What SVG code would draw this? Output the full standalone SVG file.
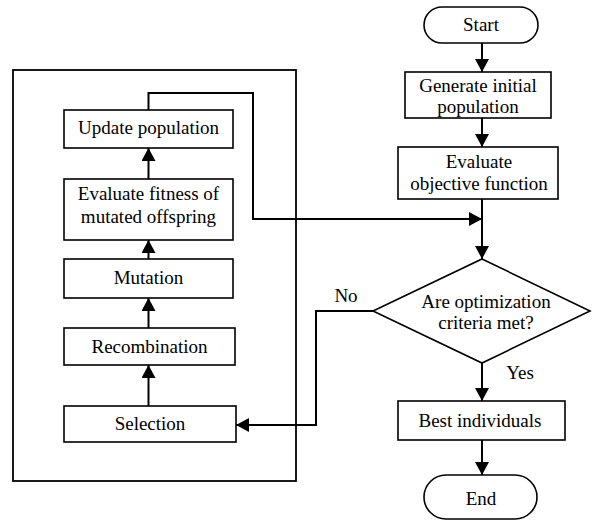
<svg xmlns="http://www.w3.org/2000/svg" width="592" height="521" viewBox="0 0 592 521">
<defs>
<marker id="ah" markerUnits="userSpaceOnUse" markerWidth="14" markerHeight="14" refX="13" refY="7" orient="auto">
<path d="M0,0 L13,7 L0,14 Z" fill="#000"/>
</marker>
</defs>
<rect x="0" y="0" width="592" height="521" fill="#fff"/>
<g id="container"><rect x="13" y="70" width="283" height="411" fill="none" stroke="#000" stroke-width="1.8"/></g>
<g id="update"><rect fill="#fff" stroke="#000" stroke-width="1.6" x="64" y="110" width="169" height="38"/><text x="148.5" y="134" font-family="Liberation Serif, serif" font-size="19" text-anchor="middle">Update population</text></g>
<g id="evalfit"><rect fill="#fff" stroke="#000" stroke-width="1.6" x="64" y="179" width="169" height="61"/><text x="148.5" y="200" font-family="Liberation Serif, serif" font-size="19" text-anchor="middle">Evaluate fitness of</text><text x="148.5" y="223" font-family="Liberation Serif, serif" font-size="19" text-anchor="middle">mutated offspring</text></g>
<g id="mutation"><rect fill="#fff" stroke="#000" stroke-width="1.6" x="64" y="259" width="169" height="39"/><text x="148.5" y="284" font-family="Liberation Serif, serif" font-size="19" text-anchor="middle">Mutation</text></g>
<g id="recomb"><rect fill="#fff" stroke="#000" stroke-width="1.6" x="64" y="328" width="171" height="37"/><text x="149.5" y="353" font-family="Liberation Serif, serif" font-size="19" text-anchor="middle">Recombination</text></g>
<g id="selection"><rect fill="#fff" stroke="#000" stroke-width="1.6" x="64" y="406" width="172" height="36"/><text x="150" y="430" font-family="Liberation Serif, serif" font-size="19" text-anchor="middle">Selection</text></g>
<g id="start"><rect fill="#fff" stroke="#000" stroke-width="1.6" x="424" y="7" width="114" height="36" rx="18"/><text x="481" y="31" font-family="Liberation Serif, serif" font-size="19" text-anchor="middle">Start</text></g>
<g id="generate"><rect fill="#fff" stroke="#000" stroke-width="1.6" x="405" y="72" width="146" height="46"/><text x="478" y="92" font-family="Liberation Serif, serif" font-size="19" text-anchor="middle">Generate initial</text><text x="478" y="113" font-family="Liberation Serif, serif" font-size="19" text-anchor="middle">population</text></g>
<g id="evalobj"><rect fill="#fff" stroke="#000" stroke-width="1.6" x="398" y="147" width="160" height="52"/><text x="479" y="168" font-family="Liberation Serif, serif" font-size="19" text-anchor="middle">Evaluate</text><text x="479" y="190" font-family="Liberation Serif, serif" font-size="19" text-anchor="middle">objective function</text></g>
<g id="decision"><polygon fill="#fff" stroke="#000" stroke-width="1.6" points="482,259 590,311 482,363 373,311"/><text x="486" y="308" font-family="Liberation Serif, serif" font-size="19" text-anchor="middle">Are optimization</text><text x="486" y="329" font-family="Liberation Serif, serif" font-size="19" text-anchor="middle">criteria met?</text></g>
<g id="best"><rect fill="#fff" stroke="#000" stroke-width="1.6" x="398" y="401" width="167" height="39"/><text x="480" y="427" font-family="Liberation Serif, serif" font-size="19" text-anchor="middle">Best individuals</text></g>
<g id="end"><rect fill="#fff" stroke="#000" stroke-width="1.6" x="424" y="475" width="113" height="44" rx="22"/><text x="481" y="505" font-family="Liberation Serif, serif" font-size="19" text-anchor="middle">End</text></g>
<g id="connectors" fill="none" stroke="#000" stroke-width="2">
<path d="M148.5,406 V365" marker-end="url(#ah)"/>
<path d="M148.5,328 V298" marker-end="url(#ah)"/>
<path d="M148.5,259 V240" marker-end="url(#ah)"/>
<path d="M148.5,179 V148" marker-end="url(#ah)"/>
<path d="M148.5,110 V93 H253 V219 H482" marker-end="url(#ah)"/>
<path d="M482,43 V72" marker-end="url(#ah)"/>
<path d="M482,118 V147" marker-end="url(#ah)"/>
<path d="M482,199 V259" marker-end="url(#ah)"/>
<path d="M373,311 H316 V425 H236" marker-end="url(#ah)"/>
<path d="M482,363 V401" marker-end="url(#ah)"/>
<path d="M482,440 V475" marker-end="url(#ah)"/>
</g>
<g id="labels">
<text x="346" y="302" font-family="Liberation Serif, serif" font-size="19" text-anchor="middle">No</text>
<text x="520" y="379" font-family="Liberation Serif, serif" font-size="19" text-anchor="middle">Yes</text>
</g>
</svg>
